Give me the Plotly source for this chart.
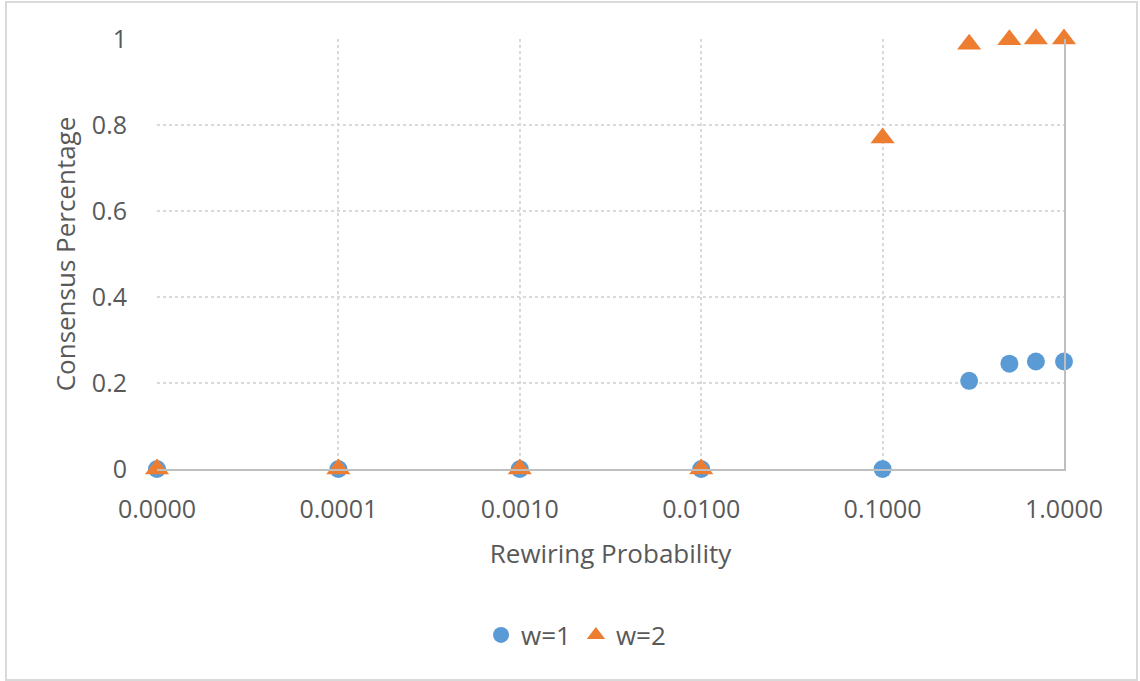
import plotly.graph_objects as go

# Data
rewiring_prob = [0.00001, 0.0001, 0.001, 0.01, 0.1, 0.3, 0.5, 0.7, 1.0]
w1_values = [0, 0, 0, 0, 0, 0.205, 0.245, 0.25, 0.25]
w2_values = [0, 0, 0, 0, 0.77, 0.988, 0.998, 1.0, 1.0]
x_tickvals = [0.00001, 0.0001, 0.001, 0.01, 0.1, 1.0]
x_ticktext = ["0.0000", "0.0001", "0.0010", "0.0100", "0.1000", "1.0000"]
y_tickvals = [0, 0.2, 0.4, 0.6, 0.8, 1]
y_ticktext = ["0", "0.2", "0.4", "0.6", "0.8", "1"]

FONT = "Open Sans"
TXT = "#595959"
GRID = "#d9d9d9"
AXIS = "#bfbfbf"

fig = go.Figure()
fig.add_trace(go.Scatter(
    x=rewiring_prob, y=w1_values, mode="markers", name="w=1", cliponaxis=False,
    marker=dict(symbol="circle", size=18, color="#5B9BD5"),
))
fig.add_trace(go.Scatter(
    x=rewiring_prob, y=w2_values, mode="markers", name="w=2", cliponaxis=False,
    marker=dict(symbol="triangle-up", size=21, color="#ED7D31"),
))

fig.update_layout(
    width=1140, height=681,
    margin=dict(l=157, r=76, t=39, b=212),
    paper_bgcolor="white", plot_bgcolor="white",
    font=dict(family=FONT, color=TXT, size=25),
    showlegend=True,
    legend=dict(orientation="h", x=0.462, xanchor="center", y=-0.386, yanchor="middle",
                font=dict(size=26, color=TXT), itemsizing="trace"),
    xaxis=dict(
        type="log", range=[-5, 0],
        tickvals=x_tickvals, ticktext=x_ticktext,
        showgrid=True, gridcolor=GRID, griddash="dot", gridwidth=1.5,
        showline=True, linecolor=AXIS, linewidth=2,
        ticks="outside", ticklen=17, tickcolor="rgba(0,0,0,0)",
        tickfont=dict(size=25, color=TXT),
        title=dict(text="Rewiring Probability", font=dict(size=26, color=TXT), standoff=21),
        zeroline=False,
    ),
    yaxis=dict(
        range=[0, 1],
        tickvals=y_tickvals, ticktext=y_ticktext,
        showgrid=True, gridcolor=GRID, griddash="dot", gridwidth=1.5,
        showline=False, zeroline=False,
        ticks="outside", ticklen=24, tickcolor="rgba(0,0,0,0)",
        tickfont=dict(size=25, color=TXT),
        title=dict(text="Consensus Percentage", font=dict(size=26, color=TXT), standoff=8),
    ),
    yaxis2=dict(
        range=[0, 1], overlaying="y", side="right",
        showline=True, linecolor=AXIS, linewidth=2,
        showgrid=False, zeroline=False, showticklabels=False, ticks="",
    ),
    shapes=[dict(type="rect", xref="paper", yref="paper",
                 x0=-0.1665, x1=1.0805, y0=-0.4907, y1=1.086,
                 line=dict(color=GRID, width=2), fillcolor="rgba(0,0,0,0)", layer="below")],
)
fig.add_trace(go.Scatter(x=[], y=[], yaxis="y2", showlegend=False, hoverinfo="skip"))

fig.write_html("out.html", config={"displayModeBar": False},
               post_script="document.body.style.margin='0px';")
